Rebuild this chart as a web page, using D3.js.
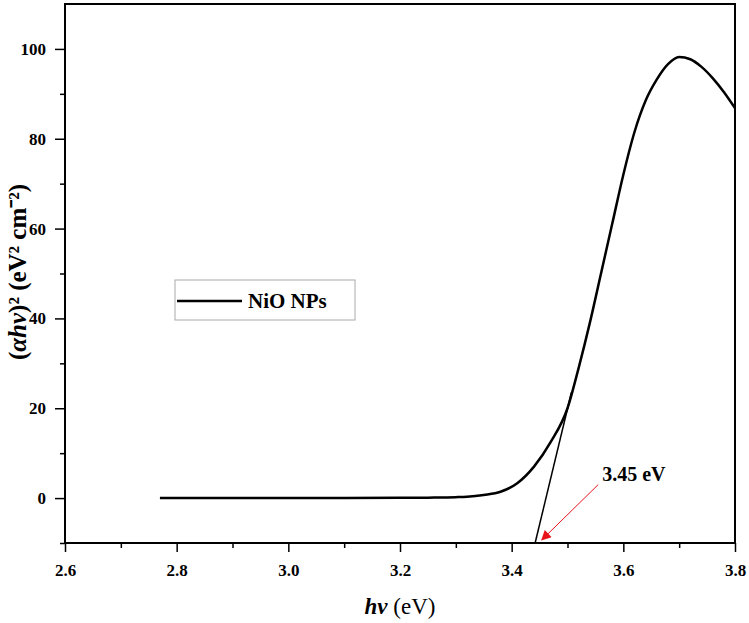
<!DOCTYPE html>
<html>
<head>
<meta charset="utf-8">
<script src="https://cdn.jsdelivr.net/npm/d3@7"></script>
<style>
  body { margin: 0; background: #fff; }
  svg { display: block; }
  text { font-family: "Liberation Serif", "Times New Roman", serif; }
</style>
</head>
<body>
<div id="chart"></div>
<script>
// curve: photon energy (eV) and (ahv)^2
var energy = [2.77, 2.9, 3.0, 3.1, 3.2, 3.25, 3.3, 3.32, 3.35, 3.38, 3.41, 3.44, 3.47, 3.5,
  3.52, 3.54, 3.56, 3.58, 3.6, 3.62, 3.64, 3.66, 3.68, 3.7, 3.72, 3.74, 3.76, 3.78, 3.8];
var absorb = [0, 0, 0, 0, 0.05, 0.1, 0.2, 0.3, 0.7, 1.4, 3.3, 7.0, 12.5, 20,
  29, 39, 50, 61, 72, 81.5, 88.5, 93.2, 96.6, 98.2, 97.7, 96.0, 93.5, 90.4, 86.8];
// tangent used for the band gap
var tangentX = [3.442, 3.507];
var tangentY = [-10, 23.5];
// arrow (tail, head) and label
var arrowX = [3.555, 3.454];
var arrowY = [3.0, -9.3];
var gapLabel = "3.45 eV";
var xTicks = [2.6, 2.8, 3.0, 3.2, 3.4, 3.6, 3.8];
var yTicks = [0, 20, 40, 60, 80, 100];

var width = 749, height = 623;
var padL = 65, padR = 735, padT = 4, padB = 543;

var svg = d3.select('#chart').append('svg')
  .attr('width', width)
  .attr('height', height);

var x = d3.scaleLinear().domain([2.6, 3.8]).range([padL, padR]);
var y = d3.scaleLinear().domain([-10, 110]).range([padB, padT]);

// frame
svg.append('rect')
  .attr('x', padL).attr('y', padT)
  .attr('width', padR - padL).attr('height', padB - padT)
  .attr('fill', 'none').attr('stroke', '#000').attr('stroke-width', 2);

// minor ticks
svg.append('g')
  .attr('transform', 'translate(0,' + padB + ')')
  .call(d3.axisBottom(x).tickValues(d3.range(2.7, 3.8, 0.2)).tickSize(5).tickFormat(''))
  .call(function (g) { g.select('.domain').remove(); })
  .selectAll('line').attr('stroke-width', 1.5);
svg.append('g')
  .attr('transform', 'translate(' + padL + ',0)')
  .call(d3.axisLeft(y).tickValues([-10, 10, 30, 50, 70, 90]).tickSize(5).tickFormat(''))
  .call(function (g) { g.select('.domain').remove(); })
  .selectAll('line').attr('stroke-width', 1.5);

// major ticks
var xAxis = svg.append('g')
  .attr('transform', 'translate(0,' + padB + ')')
  .call(d3.axisBottom(x).tickValues(xTicks).tickSize(9).tickPadding(12).tickFormat(d3.format('.1f')));
xAxis.select('.domain').remove();
xAxis.selectAll('line').attr('stroke-width', 1.5);
xAxis.selectAll('text')
  .style('font-size', '17px').style('font-weight', 'bold')
  .style('font-family', '"Liberation Serif", serif');

var yAxis = svg.append('g')
  .attr('transform', 'translate(' + padL + ',0)')
  .call(d3.axisLeft(y).tickValues(yTicks).tickSize(10).tickPadding(9));
yAxis.select('.domain').remove();
yAxis.selectAll('line').attr('stroke-width', 1.5);
yAxis.selectAll('text')
  .style('font-size', '17px').style('font-weight', 'bold')
  .style('font-family', '"Liberation Serif", serif');

// data curve
var line = d3.line()
  .x(function (d) { return x(d[0]); })
  .y(function (d) { return y(d[1]); })
  .curve(d3.curveMonotoneX);

svg.append('path')
  .datum(d3.zip(energy, absorb))
  .attr('d', line)
  .attr('fill', 'none')
  .attr('stroke', '#000')
  .attr('stroke-width', 2.5);

// tangent
svg.append('path')
  .datum(d3.zip(tangentX, tangentY))
  .attr('d', d3.line().x(function (d) { return x(d[0]); }).y(function (d) { return y(d[1]); }))
  .attr('stroke', '#000')
  .attr('stroke-width', 1.5);

// red arrow
svg.append('defs').append('marker')
  .attr('id', 'head')
  .attr('viewBox', '0 0 10 10')
  .attr('refX', 9).attr('refY', 5)
  .attr('markerWidth', 14).attr('markerHeight', 10)
  .attr('markerUnits', 'userSpaceOnUse')
  .attr('orient', 'auto')
  .append('path')
  .attr('d', 'M0,0 L10,5 L0,10 Z')
  .attr('fill', '#e8141b');

svg.append('line')
  .attr('x1', x(arrowX[0])).attr('y1', y(arrowY[0]))
  .attr('x2', x(arrowX[1])).attr('y2', y(arrowY[1]))
  .attr('stroke', '#e8141b').attr('stroke-width', 1)
  .attr('marker-end', 'url(#head)');

svg.append('text')
  .attr('x', x(arrowX[0]) + 4)
  .attr('y', y(arrowY[0]) - 4)
  .style('font-size', '20px').attr('font-weight', 'bold')
  .text(gapLabel);

// legend
var legend = svg.append('g').attr('transform', 'translate(175,280)');
legend.append('rect')
  .attr('width', 180).attr('height', 40)
  .attr('fill', '#fff').attr('stroke', '#aaa').attr('stroke-width', 1);
legend.append('line')
  .attr('x1', 2).attr('x2', 67).attr('y1', 21).attr('y2', 21)
  .attr('stroke', '#000').attr('stroke-width', 2.5);
legend.append('text')
  .attr('x', 73).attr('y', 28)
  .style('font-size', '21px').attr('font-weight', 'bold')
  .text('NiO NPs');

// axis titles
var xt = svg.append('text')
  .attr('x', (padL + padR) / 2)
  .attr('y', 614)
  .attr('text-anchor', 'middle')
  .style('font-size', '23px');
xt.append('tspan').attr('font-style', 'italic').attr('font-weight', 'bold').text('hv');
xt.append('tspan').text(' (eV)');

var yt = svg.append('text')
  .attr('transform', 'translate(26,' + 272 + ') rotate(-90)')
  .attr('text-anchor', 'middle')
  .style('font-size', '25px')
  .attr('font-weight', 'bold');
yt.append('tspan').text('(');
yt.append('tspan').attr('font-style', 'italic').text('\u03b1hv');
yt.append('tspan').text(')\u00b2 (eV\u00b2 cm\u207b\u00b2)');
</script>
</body>
</html>
